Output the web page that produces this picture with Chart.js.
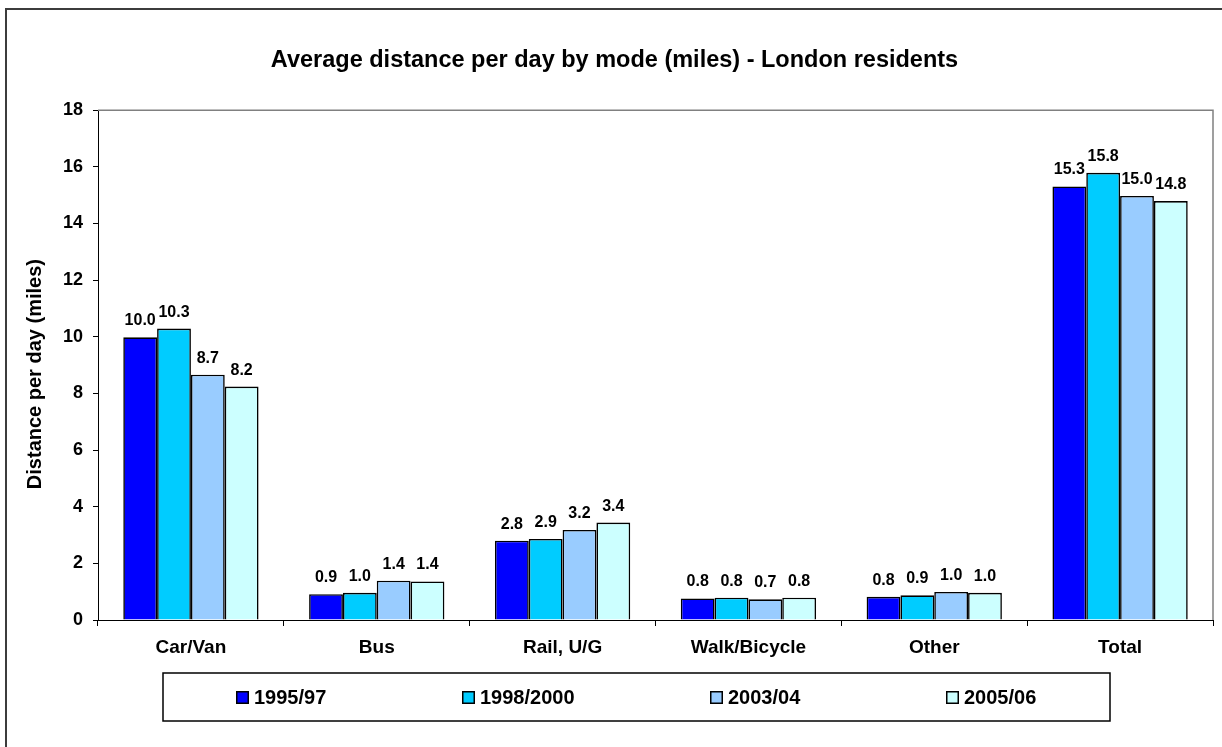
<!DOCTYPE html>
<html>
<head>
<meta charset="utf-8">
<title>Average distance per day by mode (miles) - London residents</title>
<script src="https://cdn.jsdelivr.net/npm/chart.js@4/dist/chart.umd.min.js"></script>
<style>
  html, body { margin: 0; padding: 0; background: #ffffff; }
  canvas { display: block; }
</style>
</head>
<body>
<canvas id="chart" width="1222" height="747"></canvas>
<script>
// Travel modes along the x axis
const categories = ['Car/Van', 'Bus', 'Rail, U/G', 'Walk/Bicycle', 'Other', 'Total'];

// Survey periods (one bar series each)
const periods = ['1995/97', '1998/2000', '2003/04', '2005/06'];

// Average miles per day for each mode, by period
const miles1995_97   = [9.98, 0.91, 2.80, 0.76, 0.82, 15.31];
const miles1998_2000 = [10.29, 0.96, 2.86, 0.79, 0.87, 15.79];
const miles2003_04   = [8.66, 1.39, 3.18, 0.73, 0.99, 14.97];
const miles2005_06   = [8.24, 1.36, 3.44, 0.79, 0.96, 14.79];

// Value axis range and tick step
const yMin = 0;
const yMax = 18;
const yStep = 2;

const seriesValues = [miles1995_97, miles1998_2000, miles2003_04, miles2005_06];
const seriesColors = ['#0000FF', '#00CCFF', '#99CCFF', '#CCFFFF'];

const FONT = "'Liberation Sans', Arial, Helvetica, sans-serif";
const Y_TITLE = 'Distance per day (miles)';

// White page with a dark outer frame
const framePlugin = {
  id: 'frame',
  beforeDraw(chart) {
    const ctx = chart.ctx;
    ctx.save();
    ctx.fillStyle = '#ffffff';
    ctx.fillRect(0, 0, chart.width, chart.height);
    ctx.strokeStyle = '#3c3c3c';
    ctx.lineWidth = 2;
    ctx.strokeRect(6, 9, chart.width + 20, chart.height + 20);
    ctx.restore();
  }
};

// Grey top and right edges of the plot area
const plotEdgePlugin = {
  id: 'plotEdge',
  beforeDatasetsDraw(chart) {
    const { ctx, chartArea: a } = chart;
    ctx.save();
    ctx.strokeStyle = '#808080';
    ctx.lineWidth = 1.5;
    ctx.beginPath();
    ctx.moveTo(a.left, a.top);
    ctx.lineTo(a.right, a.top);
    ctx.lineTo(a.right, a.bottom);
    ctx.stroke();
    ctx.restore();
  }
};

// Rotated value-axis title
const yTitlePlugin = {
  id: 'yTitle',
  afterDraw(chart) {
    const { ctx, chartArea: a } = chart;
    ctx.save();
    ctx.translate(35, (a.top + a.bottom) / 2 + 9);
    ctx.rotate(-Math.PI / 2);
    ctx.font = 'bold 20px ' + FONT;
    ctx.fillStyle = '#000000';
    ctx.textAlign = 'center';
    ctx.textBaseline = 'middle';
    ctx.fillText(Y_TITLE, 0, 0);
    ctx.restore();
  }
};

// Value labels above each bar
const valueLabelPlugin = {
  id: 'valueLabels',
  afterDatasetsDraw(chart) {
    const ctx = chart.ctx;
    ctx.save();
    ctx.font = 'bold 16px ' + FONT;
    ctx.fillStyle = '#000000';
    ctx.textAlign = 'center';
    ctx.textBaseline = 'alphabetic';
    chart.data.datasets.forEach((ds, di) => {
      const meta = chart.getDatasetMeta(di);
      meta.data.forEach((bar, i) => {
        ctx.fillText(ds.data[i].toFixed(1), bar.x, bar.y - 12);
      });
    });
    ctx.restore();
  }
};

// Boxed legend below the category labels, items centred in equal slots
const legendBoxPlugin = {
  id: 'legendBox',
  afterDraw(chart) {
    const ctx = chart.ctx;
    const box = { left: 163, top: 673, right: 1110, bottom: 721 };
    ctx.save();
    ctx.strokeStyle = '#000000';
    ctx.lineWidth = 1.5;
    ctx.strokeRect(box.left, box.top, box.right - box.left, box.bottom - box.top);
    const n = chart.data.datasets.length;
    const slot = (box.right - box.left) / n;
    const cy = (box.top + box.bottom) / 2;
    const sw = 13, gap = 5;
    ctx.font = 'bold 20px ' + FONT;
    ctx.textBaseline = 'middle';
    ctx.textAlign = 'left';
    chart.data.datasets.forEach((ds, i) => {
      const tw = ctx.measureText(ds.label).width;
      const w = sw + gap + tw;
      const x0 = Math.round(box.left + slot * i + (slot - w) / 2);
      const y0 = Math.round(cy - sw / 2);
      ctx.fillStyle = ds.backgroundColor;
      ctx.fillRect(x0, y0, sw, sw);
      ctx.lineWidth = 1.5;
      ctx.strokeStyle = '#000000';
      ctx.strokeRect(x0 + 0.75, y0 + 0.75, sw - 1.5, sw - 1.5);
      ctx.fillStyle = '#000000';
      ctx.fillText(ds.label, x0 + sw + gap, cy + 1);
    });
    ctx.restore();
  }
};

new Chart(document.getElementById('chart'), {
  type: 'bar',
  data: {
    labels: categories,
    datasets: periods.map((p, i) => ({
      label: p,
      data: seriesValues[i],
      backgroundColor: seriesColors[i],
      borderColor: '#000000',
      borderWidth: 1.6,
      categoryPercentage: 0.728,
      barPercentage: 1.0
    }))
  },
  options: {
    responsive: false,
    animation: false,
    devicePixelRatio: 1,
    layout: { padding: { left: 16, right: 9, top: 0, bottom: 0 } },
    plugins: {
      legend: { display: false },
      tooltip: { enabled: false },
      title: {
        display: true,
        text: 'Average distance per day by mode (miles) - London residents',
        color: '#000000',
        font: { family: FONT, size: 23.5, weight: 'bold' },
        padding: { top: 46, bottom: 36 }
      }
    },
    scales: {
      x: {
        afterFit(scale) { scale.height = 127; },
        grid: {
          drawOnChartArea: false,
          drawTicks: true,
          tickLength: 6,
          color: '#000000',
          offset: true
        },
        border: { display: true, color: '#000000', width: 1 },
        ticks: {
          color: '#000000',
          font: { family: FONT, size: 19, weight: 'bold' },
          padding: 10,
          maxRotation: 0,
          autoSkip: false
        }
      },
      y: {
        min: yMin,
        max: yMax,
        afterFit(scale) { scale.width = 82; },
        grid: {
          drawOnChartArea: false,
          drawTicks: true,
          tickLength: 5,
          color: '#000000'
        },
        border: { display: true, color: '#000000', width: 1 },
        ticks: {
          stepSize: yStep,
          color: '#000000',
          font: { family: FONT, size: 18, weight: 'bold' },
          padding: 10
        }
      }
    }
  },
  plugins: [framePlugin, plotEdgePlugin, valueLabelPlugin, yTitlePlugin, legendBoxPlugin]
});
</script>
</body>
</html>
